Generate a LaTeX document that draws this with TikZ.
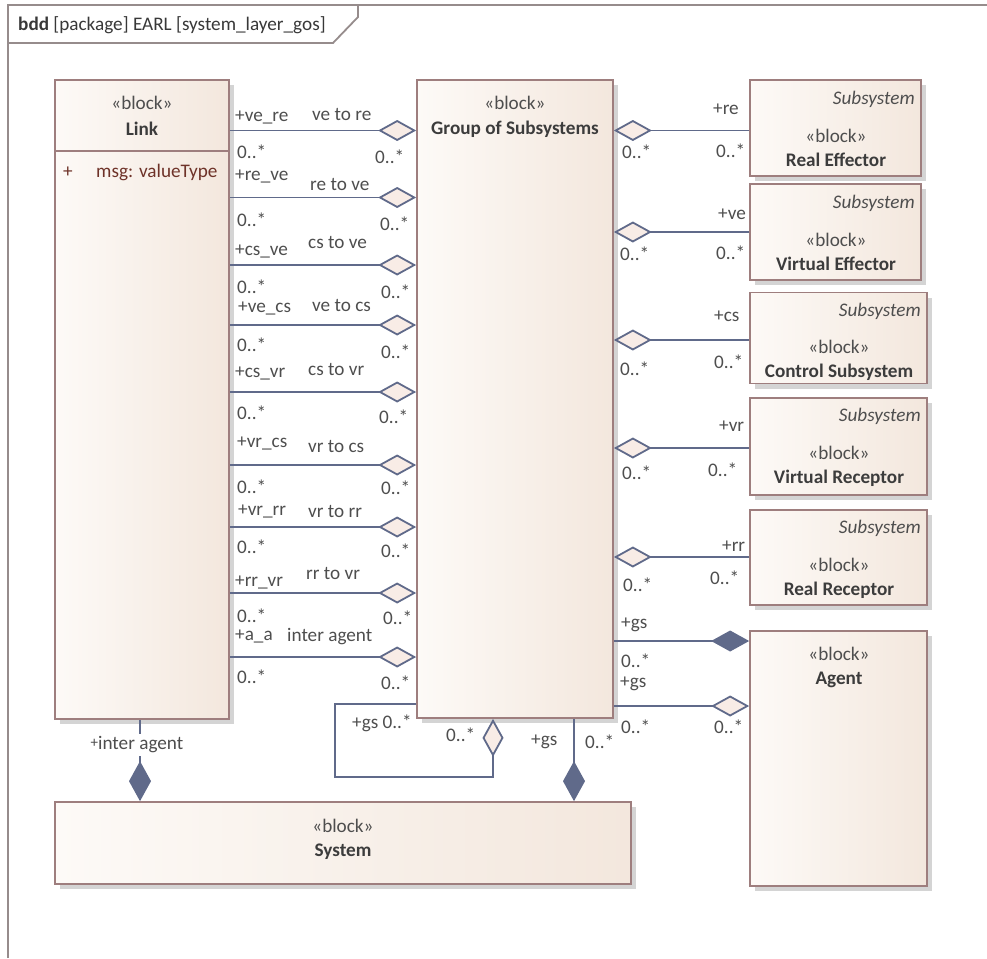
\documentclass[tikz,border=0pt]{standalone}
\usepackage{fontspec}
\setmainfont{Carlito}
\usetikzlibrary{arrows.meta,shadows}
\definecolor{fillL}{RGB}{253,250,247}
\definecolor{fillR}{RGB}{243,231,221}
\definecolor{bordc}{RGB}{158,126,126}
\definecolor{shadc}{RGB}{212,212,212}
\definecolor{connc}{RGB}{96,106,138}
\definecolor{diafill}{RGB}{248,236,230}
\definecolor{txtc}{RGB}{78,78,78}
\definecolor{namec}{RGB}{60,60,60}
\definecolor{attrc}{RGB}{110,50,40}
\definecolor{framec}{RGB}{150,140,140}
\newcommand\fsz{\fontsize{19.2}{22}\selectfont}
\tikzset{
 blk/.style={draw=bordc, line width=1.7pt, left color=fillL, right color=fillR, inner sep=0pt,
   drop shadow={shadow xshift=5pt, shadow yshift=-5pt, fill=shadc, opacity=1}},
 lbl/.style={font=\fsz, text=txtc, inner sep=0pt, anchor=west},
 ster/.style={font=\fsz, text=txtc, inner sep=0pt},
 bname/.style={font=\fsz\bfseries, text=namec, inner sep=0pt},
 subs/.style={font=\fsz\itshape, text=txtc, inner sep=0pt, anchor=east},
 conn/.style={draw=connc, line width=1.8pt},
 agg/.style={-{Diamond[length=38pt,width=21pt,fill=diafill]}},
 comp/.style={-{Diamond[length=38pt,width=21pt,fill=connc]}},
 aggv/.style={-{Diamond[length=38pt,width=21pt,fill=diafill]}},
 compv/.style={-{Diamond[length=40pt,width=22pt,fill=connc]}},
}
\begin{document}
\begin{tikzpicture}[x=1pt,y=-1pt]
\useasboundingbox (0,0) rectangle (987,958);
% frame
\draw[framec, line width=1.8pt] (8,958) -- (8,5) -- (987,5);
\draw[framec, line width=1.8pt] (8,43) -- (333,43) -- (358,17) -- (358,5);
\node[lbl, text=black!78] (title) at (18,25) {\textbf{bdd} [package] EARL [system\_layer\_gos]};

% blocks
\node[blk, minimum width=174pt, minimum height=639pt] (Link) at (142,399.5) {};
\node[blk, minimum width=196pt, minimum height=638pt] (GoS) at (515,399) {};
\node[blk, minimum width=171pt, minimum height=96pt] (RE) at (835.5,128) {};
\node[blk, minimum width=171pt, minimum height=96pt] (VE) at (835.5,232) {};
\node[blk, minimum width=177pt, minimum height=91pt] (CS) at (838.5,338) {};
\node[blk, minimum width=177pt, minimum height=97pt] (VR) at (838.5,446.5) {};
\node[blk, minimum width=177pt, minimum height=95pt] (RR) at (838.5,557.5) {};
\node[blk, minimum width=177pt, minimum height=255pt] (Agent) at (838.5,758.5) {};
\node[blk, minimum width=576pt, minimum height=82pt] (System) at (343,843) {};

% Link compartment
\coordinate (ldiv) at (0,151);
\draw[bordc, line width=1.7pt] (Link.west |- ldiv) -- (Link.east |- ldiv);

% block texts
\node[ster] (linkst) at (142,103) {«block»};
\node[bname] (linkn) at (142,129) {Link};
\node[ster, text=attrc] (attrp) at (68,172) {+};
\node[lbl, text=attrc] (attr) at (96,172) {msg: valueType};
\node[ster] (gosst) at (515,103) {«block»};
\node[bname] (gosn) at (515,129) {Group of Subsystems};
\node[subs] (res) at (915,99) {Subsystem};
\node[ster] (rest) at (836,136) {«block»};
\node[bname] (ren) at (836,160) {Real Effector};
\node[subs] (ves) at (915,203) {Subsystem};
\node[ster] (vest) at (836,240) {«block»};
\node[bname] (ven) at (836,264) {Virtual Effector};
\node[subs] (css) at (921,311) {Subsystem};
\node[ster] (csst) at (839,347) {«block»};
\node[bname] (csn) at (839,372) {Control Subsystem};
\node[subs] (vrs) at (921,416) {Subsystem};
\node[ster] (vrst) at (839,453) {«block»};
\node[bname] (vrn) at (839,478) {Virtual Receptor};
\node[subs] (rrs) at (921,528) {Subsystem};
\node[ster] (rrst) at (839,565) {«block»};
\node[bname] (rrn) at (839,590) {Real Receptor};
\node[ster] (agst) at (839,654) {«block»};
\node[bname] (agn) at (839,680) {Agent};
\node[ster] (syst) at (343,826) {«block»};
\node[bname] (sysn) at (343,852) {System};

% left connectors Link -> GoS
\foreach \i/\y in {1/130.5,2/197.5,3/265,4/325,5/392,6/465,7/527,8/593,9/657}{
  \coordinate (ly\i) at (0,\y);
  \draw[conn,agg] (Link.east |- ly\i) -- (GoS.west |- ly\i);
}
\foreach \n/\x/\y/\t in {
 r1/235/118/{+ve\_re}, m1/312/114/{ve to re}, a1/237/152/{0..*}, b1/375/157/{0..*},
 r2/235/177/{+re\_ve}, m2/310/184/{re to ve}, a2/237/220/{0..*}, b2/380/224/{0..*},
 r3/235/252/{+cs\_ve}, m3/308/242/{cs to ve}, a3/237/287/{0..*}, b3/381/292/{0..*},
 r4/238/309/{+ve\_cs}, m4/312/305/{ve to cs}, a4/237/345/{0..*}, b4/381/352/{0..*},
 r5/235/374/{+cs\_vr}, m5/308/369/{cs to vr}, a5/237/413/{0..*}, b5/379/417/{0..*},
 r6/237/444/{+vr\_cs}, m6/308/446/{vr to cs}, a6/237/487/{0..*}, b6/381/488/{0..*},
 r7/238/512/{+vr\_rr}, m7/308/511/{vr to rr}, a7/237/547/{0..*}, b7/381/551/{0..*},
 r8/235/583/{+rr\_vr}, m8/306/573/{rr to vr}, a8/237/616/{0..*}, b8/383/618/{0..*},
 r9/235/637/{+a\_a}, m9/287/637/{inter agent}, a9/237/677/{0..*}, b9/381/683/{0..*}}{
  \node[lbl] (\n) at (\x,\y) {\t};
}

% right connectors subsystems -> GoS
\foreach \b/\y in {RE/130.5,VE/232,CS/340,VR/448,RR/557}{
  \coordinate (ry\b) at (0,\y);
  \draw[conn,agg] (\b.west |- ry\b) -- (GoS.east |- ry\b);
}
\coordinate (ag1) at (0,641);
\coordinate (ag2) at (0,706);
\draw[conn,comp] (GoS.east |- ag1) -- (Agent.west |- ag1);
\draw[conn,agg] (GoS.east |- ag2) -- (Agent.west |- ag2);
\foreach \n/\x/\y/\t in {
 sr1/713/109/{+re}, sa1/622/152/{0..*}, sb1/716/151/{0..*},
 sr2/718/214/{+ve}, sa2/620/254/{0..*}, sb2/716/253/{0..*},
 sr3/714/316/{+cs}, sa3/620/369/{0..*}, sb3/714/362/{0..*},
 sr4/719/426/{+vr}, sa4/622/473/{0..*}, sb4/708/470/{0..*},
 sr5/722/546/{+rr}, sa5/623/585/{0..*}, sb5/710/578/{0..*},
 gr1/621/625/{+gs}, ga1/621/661/{0..*},
 gr2/620/684/{+gs}, ga2/621/727/{0..*}, gb2/714/727/{0..*}}{
  \node[lbl] (\n) at (\x,\y) {\t};
}

% bottom connectors
\coordinate (lx) at (140,0);
\draw[conn,compv] (Link.south -| lx) -- (System.north -| lx);
\node[font=\fsz, text=txtc, fill=white, inner xsep=1pt, inner ysep=3pt] (ia) at (137,745) {\raisebox{2pt}{\fontsize{15}{15}\selectfont +}inter agent};
\coordinate (gx) at (574,0);
\draw[conn,compv] (GoS.south -| gx) -- (System.north -| gx);
\node[lbl] (gsr) at (531,742) {+gs};
\node[lbl] (gsa) at (585,742) {0..*};
% self loop
\coordinate (sl1) at (335,704);
\coordinate (sl2) at (335,777);
\coordinate (sl3) at (493,777);
\draw[conn,aggv] (GoS.west |- sl1) -- (sl1) -- (sl2) -- (sl3) -- (GoS.south -| sl3);
\node[lbl] (slr) at (352,723) {+gs 0..*};
\node[lbl] (sla) at (446,735) {0..*};
\end{tikzpicture}
\end{document}
